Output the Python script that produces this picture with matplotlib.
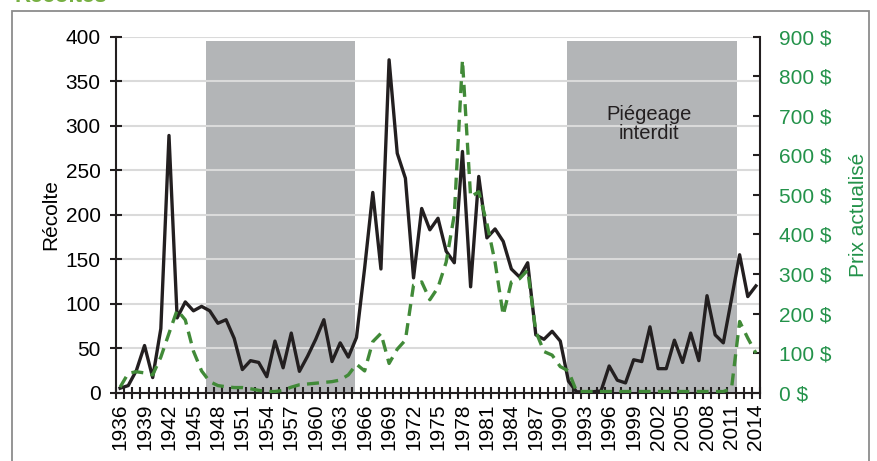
import matplotlib
matplotlib.use('Agg')
import matplotlib.pyplot as plt
import numpy as np
from matplotlib.patches import Rectangle

plt.rcParams['font.family'] = ['Liberation Sans', 'DejaVu Sans']

years = list(range(1936, 2015))
recolte = [5, 8, 25, 53, 17, 72, 289, 84, 102, 92,
           97, 92, 78, 82, 61, 26, 36, 34, 18, 58,
           28, 67, 24, 41, 60, 82, 35, 56, 40, 62,
           140, 225, 139, 374, 269, 241, 129, 207, 183, 196,
           159, 146, 271, 119, 243, 174, 184, 170, 139, 130,
           146, 65, 60, 69, 58, 13, 1, 1, 1, 2,
           30, 14, 11, 37, 35, 74, 27, 27, 59, 34,
           67, 36, 109, 65, 56, 105, 155, 108, 120]
prix = [14, 49, 53, 50, 45, 90, 150, 209, 184, 105,
        55, 28, 18, 15, 13, 13, 10, 6, 3, 3,
        6, 14, 20, 22, 24, 26, 28, 32, 45, 72,
        55, 129, 150, 74, 110, 133, 272, 280, 235, 266,
        330, 450, 841, 495, 508, 428, 330, 196, 280, 288,
        310, 155, 104, 95, 66, 55, 3, 3, 3, 3,
        3, 3, 3, 3, 3, 3, 3, 3, 3, 3,
        3, 3, 3, 3, 3, 10, 180, 138, 100]
left_ticks = list(range(0, 401, 50))
right_ticks = list(range(0, 901, 100))
right_labels = [f"{v} $" for v in right_ticks]
label_years = list(range(1936, 2015, 3))
shaded_periods = [(1946.5, 1964.8), (1990.8, 2011.7)]
shade_top = 395
shade_text = "Piégeage\ninterdit"

W, H = 878, 461
fig = plt.figure(figsize=(W / 100, H / 100), dpi=100)

# outer frame and cut-off title (only its lowest pixels show in the reference)
fig.patches.append(Rectangle((12 / W, -0.05), (869 - 12) / W, (H - 10.7) / H + 0.05,
                             transform=fig.transFigure, fill=False,
                             edgecolor='#8c8c8c', lw=1.3))
fig.text(14 / W, 1 - 1.5 / H, "Récoltes", fontsize=16, fontweight='bold',
         color='#77b043', va='baseline', ha='left')

ax = fig.add_axes([116 / W, 1 - 392.7 / H, (760 - 116) / W, (392.7 - 36.7) / H])
ax.set_xlim(1935.5, 2014.5)
ax.set_ylim(0, 400)
for a, b in shaded_periods:
    ax.axvspan(a, b, ymin=0, ymax=shade_top / 400, color='#b3b5b7', lw=0, zorder=0.2)
ax.set_axisbelow(True)
ax.set_yticks(left_ticks)
ax.yaxis.grid(True, color='#dadada', lw=1.5)
ax.plot(years, recolte, color='#231f20', lw=2.4, zorder=3)

ax.spines['top'].set_visible(False)
ax.spines['right'].set_visible(False)
for s in ['left', 'bottom']:
    ax.spines[s].set_color('#231f20')
    ax.spines[s].set_linewidth(1.5)
ax.tick_params(axis='y', direction='inout', length=8, width=1.5, color='#231f20',
               labelsize=15, pad=7)
ax.set_xticks(label_years)
ax.set_xticklabels([str(y) for y in label_years], rotation=90)
ax.set_xticks(np.arange(1935.5, 2015, 1), minor=True)
ax.tick_params(axis='x', which='major', length=0, labelsize=15, pad=8)
ax.tick_params(axis='x', which='minor', direction='inout', length=8, width=1.5,
               color='#231f20')
ax.set_ylabel("Récolte", fontsize=15, labelpad=4)

ax.text(2000.9, 302, shade_text, ha='center', va='center', fontsize=14.5,
        color='#231f20', linespacing=1.05, zorder=4)

ax2 = ax.twinx()
ax2.set_ylim(0, 900)
ax2.set_yticks(right_ticks)
ax2.set_yticklabels(right_labels)
ax2.plot(years, prix, color='#418a38', lw=2.4, dashes=(3.6, 2.2), zorder=3)
for s in ['top', 'left', 'bottom']:
    ax2.spines[s].set_visible(False)
ax2.spines['right'].set_color('#231f20')
ax2.spines['right'].set_linewidth(1.5)
ax2.tick_params(axis='y', direction='in', length=5, width=1.5, color='#231f20',
                labelsize=15, labelcolor='#23924a', pad=14)
ax2.set_ylabel("Prix actualisé", fontsize=15, color='#23924a', labelpad=12)

fig.savefig('out.png', dpi=100)
